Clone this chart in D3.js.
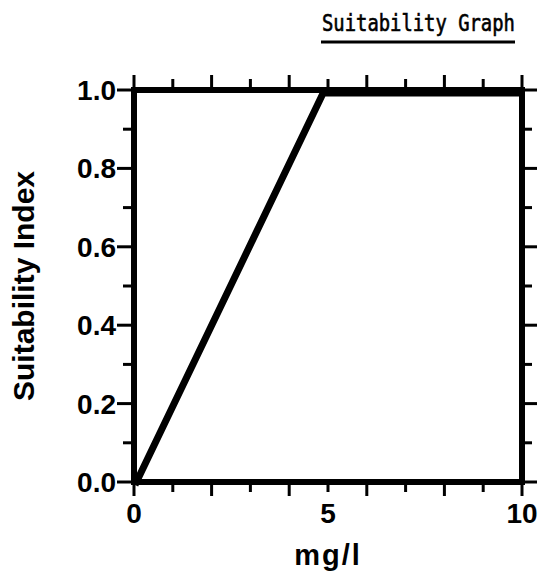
<!DOCTYPE html>
<html>
<head>
<meta charset="utf-8">
<script src="https://cdn.jsdelivr.net/npm/d3@7/dist/d3.min.js"></script>
<style>
  html, body { margin: 0; padding: 0; background: #fff; }
  svg { display: block; }
</style>
</head>
<body>
<div id="chart"></div>
<script>
// data: suitability index vs concentration
const concentration = [0, 4.85, 10];
const suitability = [0, 1, 1];

const xTicks = [0, 1, 2, 3, 4, 5, 6, 7, 8, 9, 10];
const xTickLabels = [0, 5, 10];
const yTicks = [0, 0.1, 0.2, 0.3, 0.4, 0.5, 0.6, 0.7, 0.8, 0.9, 1.0];
const yTickLabels = [0, 0.2, 0.4, 0.6, 0.8, 1.0];

const titleText = 'Suitability Graph';
const xTitle = 'mg/l';
const yTitle = 'Suitability Index';

const width = 544, height = 574;
const margin = { top: 90, right: 22, bottom: 92, left: 134 };

const svg = d3.select('#chart')
  .append('svg')
  .attr('width', width)
  .attr('height', height);

const x = d3.scaleLinear().domain([0, 10]).range([margin.left, width - margin.right]);
const y = d3.scaleLinear().domain([0, 1]).range([height - margin.bottom, margin.top]);

const ink = '#000';
const bold = "'Liberation Sans', Arial, Helvetica, sans-serif";

// ticks, drawn outward on all four sides
const tickG = svg.append('g').attr('stroke', ink).attr('stroke-width', 3);

tickG.selectAll('.tb').data(xTicks).join('line')
  .attr('x1', d => x(d)).attr('x2', d => x(d))
  .attr('y1', y(0)).attr('y2', d => y(0) + (d % 2 === 0 ? 14 : 10));

tickG.selectAll('.tt').data(xTicks).join('line')
  .attr('x1', d => x(d)).attr('x2', d => x(d))
  .attr('y1', y(1)).attr('y2', d => y(1) - (d % 2 === 0 ? 15 : 11));

const isMajorY = d => Math.round(d * 10) % 2 === 0;

tickG.selectAll('.tl').data(yTicks).join('line')
  .attr('y1', d => y(d)).attr('y2', d => y(d))
  .attr('x1', x(0)).attr('x2', d => x(0) - (isMajorY(d) ? 17 : 11));

tickG.selectAll('.tr').data(yTicks).join('line')
  .attr('y1', d => y(d)).attr('y2', d => y(d))
  .attr('x1', x(10)).attr('x2', d => x(10) + (isMajorY(d) ? 15 : 10));

// frame
svg.append('rect')
  .attr('x', x(0)).attr('y', y(1))
  .attr('width', x(10) - x(0)).attr('height', y(0) - y(1))
  .attr('fill', 'none')
  .attr('stroke', ink)
  .attr('stroke-width', 6);

// the suitability curve
const line = d3.line()
  .x((d, i) => x(concentration[i]))
  .y(d => y(d));

svg.append('path')
  .datum(suitability)
  .attr('transform', 'translate(1,3)')
  .attr('d', line)
  .attr('fill', 'none')
  .attr('stroke', ink)
  .attr('stroke-width', 7)
  .attr('stroke-linejoin', 'round');

// tick labels
svg.selectAll('.yl').data(yTickLabels).join('text')
  .attr('x', x(0) - 18)
  .attr('y', d => y(d))
  .attr('dy', '0.36em')
  .attr('text-anchor', 'end')
  .style('font-family', bold)
  .style('font-weight', 'bold')
  .style('font-size', '28px')
  .text(d => d3.format('.1f')(d));

svg.selectAll('.xl').data(xTickLabels).join('text')
  .attr('x', d => x(d))
  .attr('y', 523)
  .attr('text-anchor', 'middle')
  .style('font-family', bold)
  .style('font-weight', 'bold')
  .style('font-size', '28px')
  .text(d => d);

// axis titles
svg.append('text')
  .attr('x', x(5))
  .attr('y', 565)
  .attr('text-anchor', 'middle')
  .style('font-family', bold)
  .style('font-weight', 'bold')
  .style('font-size', '29px')
  .style('letter-spacing', '2px')
  .text(xTitle);

svg.append('text')
  .attr('transform', `translate(34, ${(y(0) + y(1)) / 2}) rotate(-90)`)
  .attr('text-anchor', 'middle')
  .style('font-family', bold)
  .style('font-weight', 'bold')
  .style('font-size', '30px')
  .text(yTitle);

// title, underlined typewriter style (slightly condensed)
svg.append('text')
  .attr('transform', 'translate(322,31) scale(0.82,1)')
  .style('font-family', "'DejaVu Sans Mono', 'Liberation Mono', monospace")
  .style('font-size', '23px')
  .attr('stroke', ink)
  .attr('stroke-width', 0.6)
  .text(titleText);

svg.append('line')
  .attr('x1', 321).attr('x2', 515)
  .attr('y1', 42).attr('y2', 42)
  .attr('stroke', ink)
  .attr('stroke-width', 3);
</script>
</body>
</html>
